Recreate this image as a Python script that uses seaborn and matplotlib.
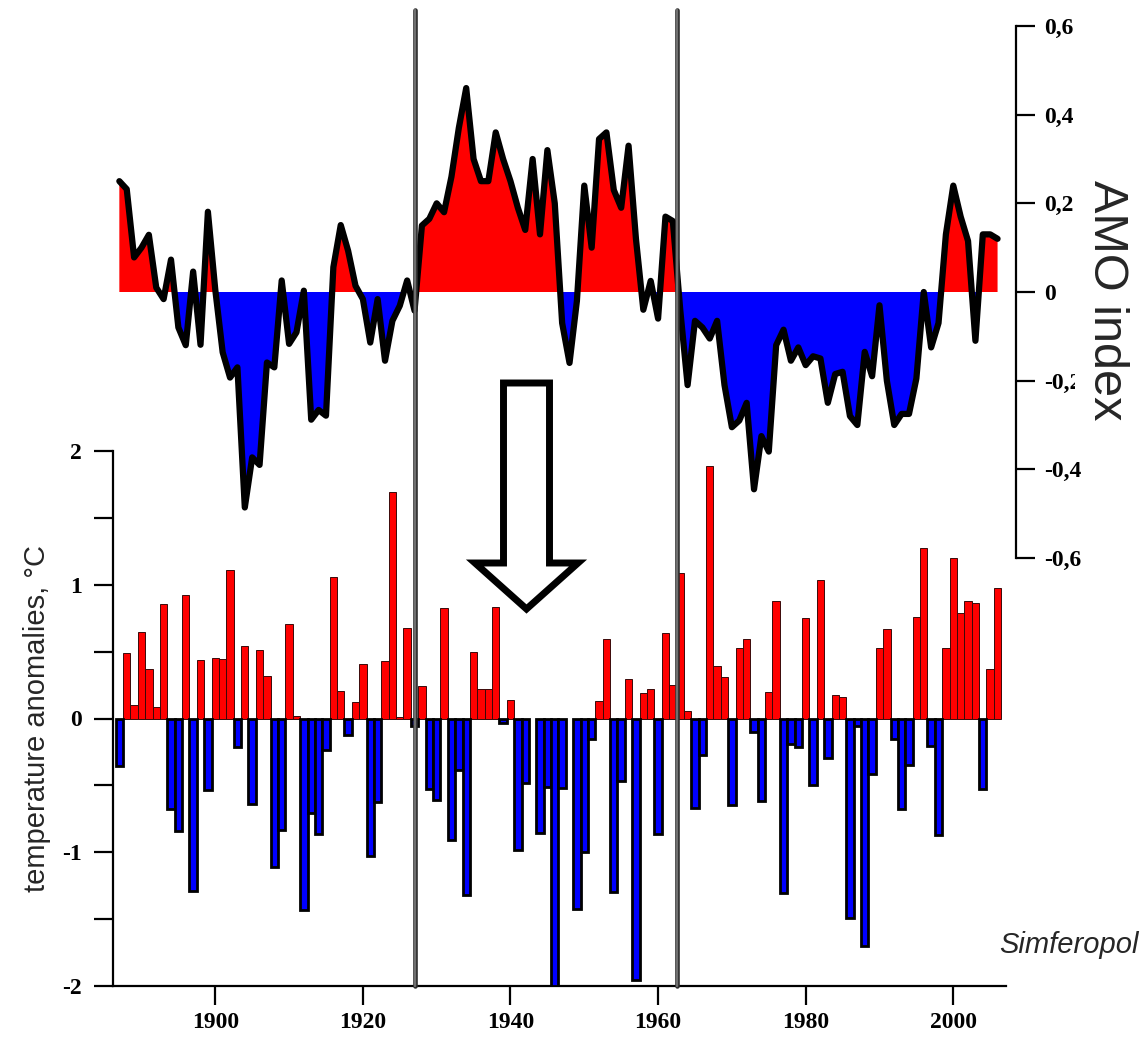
import numpy as np
import pandas as pd
import matplotlib
matplotlib.use("Agg")
import matplotlib.pyplot as plt
import matplotlib.transforms as mtransforms
from matplotlib.patches import Polygon
from matplotlib.lines import Line2D
import seaborn as sns

# ---- data -------------------------------------------------------------
years = np.arange(1887, 2007)

# Simferopol annual temperature anomalies, deg C
temp_anomaly = [
    -0.355, 0.49, 0.10, 0.644, 0.367, 0.087, 0.854, -0.674, -0.844, 0.924,
    -1.286, 0.437, -0.532, 0.454, 0.442, 1.114, -0.212, 0.542, -0.642, 0.512,
    0.317, -1.11, -0.831, 0.709, 0.017, -1.43, -0.707, -0.861, -0.232, 1.056,
    0.205, -0.12, 0.12, 0.407, -1.03, -0.624, 0.427, 1.695, 0.012, 0.674,
    -0.057, 0.245, -0.53, -0.607, 0.826, -0.906, -0.382, -1.316, 0.50, 0.217,
    0.222, 0.831, -0.037, 0.137, -0.986, -0.482, 0.0, -0.854, -0.512, -2.0,
    -0.517, 0.0, -1.423, -0.999, -0.15, 0.132, 0.594, -1.298, -0.467, 0.292,
    -1.955, 0.19, 0.217, -0.861, 0.642, 0.25, 1.09, 0.055, -0.667, -0.27,
    1.885, 0.392, 0.307, -0.644, 0.529, 0.592, -0.10, -0.617, 0.20, 0.881,
    -1.306, -0.187, -0.212, 0.749, -0.494, 1.036, -0.295, 0.175, 0.162, -1.49,
    -0.057, -1.698, -0.417, 0.529, 0.667, -0.15, -0.674, -0.35, 0.762, 1.273,
    -0.207, -0.874, 0.529, 1.203, 0.787, 0.879, 0.866, -0.524, 0.367, 0.979,
]

# Atlantic Multidecadal Oscillation index
amo_index = [
    0.25, 0.232, 0.078, 0.10, 0.129, 0.01, -0.016, 0.073, -0.08, -0.12,
    0.046, -0.119, 0.181, 0.005, -0.136, -0.193, -0.17, -0.486, -0.373, -0.39,
    -0.159, -0.17, 0.026, -0.117, -0.091, 0.003, -0.288, -0.266, -0.279, 0.056,
    0.151, 0.093, 0.014, -0.016, -0.114, -0.016, -0.155, -0.065, -0.031, 0.026,
    -0.042, 0.15, 0.165, 0.20, 0.18, 0.26, 0.37, 0.46, 0.30, 0.25,
    0.25, 0.36, 0.30, 0.25, 0.19, 0.14, 0.30, 0.13, 0.32, 0.20,
    -0.07, -0.16, -0.02, 0.24, 0.10, 0.345, 0.36, 0.23, 0.19, 0.33,
    0.12, -0.04, 0.025, -0.06, 0.17, 0.16, -0.04, -0.21, -0.065, -0.08,
    -0.105, -0.065, -0.21, -0.305, -0.29, -0.25, -0.445, -0.325, -0.36, -0.12,
    -0.085, -0.155, -0.125, -0.165, -0.145, -0.15, -0.25, -0.185, -0.18, -0.28,
    -0.30, -0.135, -0.19, -0.03, -0.20, -0.30, -0.275, -0.275, -0.195, 0.0,
    -0.125, -0.07, 0.13, 0.24, 0.17, 0.115, -0.11, 0.13, 0.13, 0.12,
]

regime_shifts = [1927, 1962.5]

year_ticks = [1900, 1920, 1940, 1960, 1980, 2000]
temp_ticks = [-2, -1, 0, 1, 2]
temp_tick_labels = ["-2", "-1", "0", "1", "2"]
temp_minor_ticks = [-1.5, -0.5, 0.5, 1.5]
amo_ticks = [-0.6, -0.4, -0.2, 0.0, 0.2, 0.4, 0.6]
amo_tick_labels = ["-0,6", "-0,4", "-0,2", "0", "0,2", "0,4", "0,6"]

# ---- style ------------------------------------------------------------
sns.set_style("ticks")
plt.rcParams["font.family"] = ["Liberation Sans", "DejaVu Sans"]

W, H = 1141, 1038
fig = plt.figure(figsize=(W / 100, H / 100), dpi=100)
fig.patch.set_facecolor("white")


def px_box(left, top, right, bottom):
    """Axes rectangle from pixel edges."""
    return [left / W, 1 - bottom / H, (right - left) / W, (bottom - top) / H]


def px_pt(x, y):
    return (x / W, 1 - y / H)


YEAR_PX = 7.38          # pixels per year on both panels
X0 = 1886.1             # year at the left spine

ax_t = fig.add_axes(px_box(112.7, 451, 1006, 986))
ax_a = fig.add_axes(px_box(112.7, 26, 1016, 558))
ax_a.set_facecolor("none")
ax_t.set_facecolor("none")

tick_font = dict(family="Liberation Serif", weight="bold", size=17)

# ---- temperature bars -------------------------------------------------
df = pd.DataFrame({"year": years, "anomaly": temp_anomaly})
warm = df[df["anomaly"] > 0]
cold = df[df["anomaly"] < 0]

sns.barplot(data=warm, x="year", y="anomaly", native_scale=True, width=1,
            color="#ff0000", saturation=1, edgecolor="#3a0a0a", linewidth=0.7,
            errorbar=None, ax=ax_t, zorder=2)
sns.barplot(data=cold, x="year", y="anomaly", native_scale=True, width=1,
            color="#0000ff", saturation=1, edgecolor="black", linewidth=2.0,
            errorbar=None, ax=ax_t, zorder=3)

ax_t.set_xlim(X0, X0 + (1006 - 112.7) / YEAR_PX)
ax_t.set_ylim(-2, 2)
ax_t.set_xticks(year_ticks)
ax_t.set_xticklabels([str(y) for y in year_ticks], **tick_font)
ax_t.set_yticks(temp_ticks)
ax_t.set_yticklabels(temp_tick_labels, **tick_font)
ax_t.set_yticks(temp_minor_ticks, minor=True)
ax_t.set_xlabel("")
ax_t.set_ylabel("")
for side in ("top", "right"):
    ax_t.spines[side].set_visible(False)
for side in ("left", "bottom"):
    ax_t.spines[side].set_linewidth(1.6)
    ax_t.spines[side].set_color("black")
ax_t.tick_params(axis="both", which="both", direction="out", length=14,
                 width=1.6, color="black", labelcolor="black")
ax_t.tick_params(axis="x", pad=5)
ax_t.tick_params(axis="y", pad=8)
ax_t.grid(False)

# ---- AMO index --------------------------------------------------------
amo = np.asarray(amo_index)
ax_a.fill_between(years, amo, 0, where=amo >= 0, interpolate=True,
                  color="#ff0000", linewidth=0, zorder=1)
ax_a.fill_between(years, amo, 0, where=amo <= 0, interpolate=True,
                  color="#0000ff", linewidth=0, zorder=1)
amo_df = pd.DataFrame({"year": years, "amo": amo_index})
sns.lineplot(data=amo_df, x="year", y="amo", color="black", linewidth=4.5,
             ax=ax_a, zorder=3, solid_joinstyle="round", solid_capstyle="round")

ax_a.set_xlim(X0, X0 + (1016 - 112.7) / YEAR_PX)
ax_a.set_ylim(-0.6, 0.6)
ax_a.set_xticks([])
ax_a.set_xlabel("")
ax_a.set_ylabel("")
for side in ("top", "left", "bottom"):
    ax_a.spines[side].set_visible(False)
ax_a.spines["right"].set_linewidth(1.6)
ax_a.spines["right"].set_color("black")
ax_a.yaxis.tick_right()
ax_a.set_yticks(amo_ticks)
ax_a.set_yticklabels(amo_tick_labels, **tick_font)
ax_a.tick_params(axis="y", direction="out", length=14, width=1.6, pad=6,
                 color="black", labelcolor="black")
ax_a.grid(False)

# ---- regime-shift markers spanning both panels ------------------------
blend = mtransforms.blended_transform_factory(ax_t.transData, fig.transFigure)
for yr in regime_shifts:
    y_span = [1 - 986 / H, 1 - 10 / H]
    fig.add_artist(Line2D([yr, yr], y_span, transform=blend,
                          color="#2a2a2a", linewidth=3.3, zorder=5))
    fig.add_artist(Line2D([yr, yr], y_span, transform=blend,
                          color="#6f6f6f", linewidth=1.7, zorder=6))

# ---- hollow arrow from AMO to temperature -----------------------------
arrow_px = [(503.5, 383), (549.5, 383), (549.5, 563), (578, 563),
            (526.5, 609), (475, 563), (503.5, 563)]
fig.add_artist(Polygon([px_pt(*p) for p in arrow_px], closed=True,
                       transform=fig.transFigure, facecolor="white",
                       edgecolor="black", linewidth=5, joinstyle="miter",
                       zorder=7))

# ---- labels -----------------------------------------------------------
fig.text(37 / W, 1 - 718 / H, "temperature anomalies, °C", rotation=90,
         ha="center", va="center", fontsize=21, family="Liberation Sans")
fig.text(1106 / W, 1 - 300 / H, "AMO index", rotation=270,
         ha="center", va="center", fontsize=35, family="Liberation Sans",
         bbox=dict(facecolor="white", edgecolor="none", pad=6), zorder=8)
fig.text(1139 / W, 1 - 945 / H, "Simferopol", ha="right", va="center",
         fontsize=21, style="italic", family="Liberation Sans")

fig.savefig("out.png", dpi=100, facecolor="white")
